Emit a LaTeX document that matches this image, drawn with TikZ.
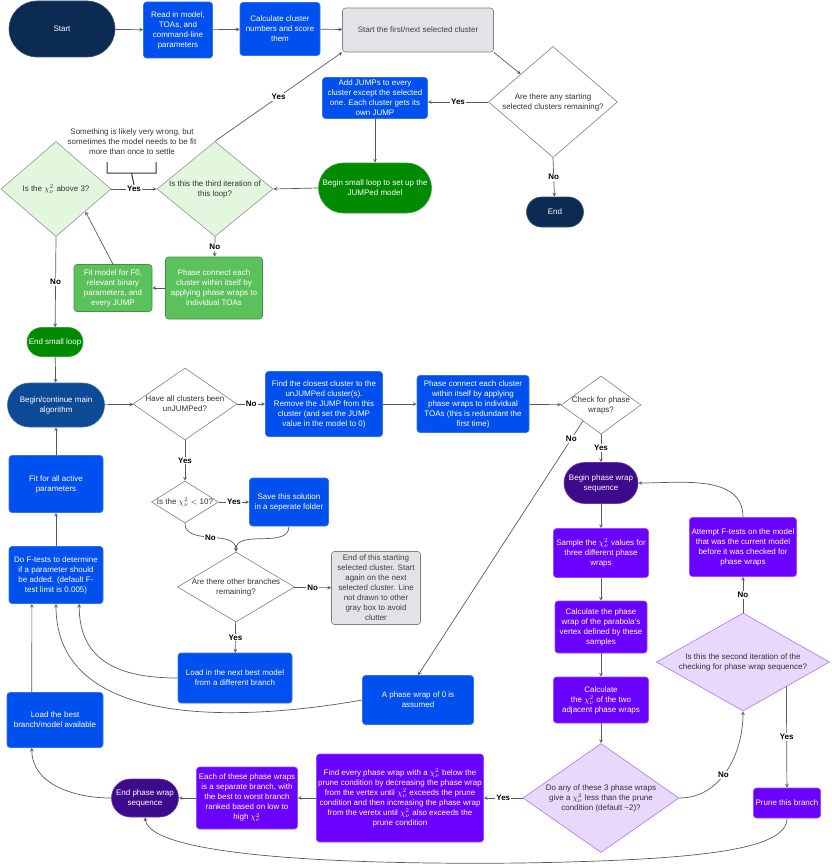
\documentclass[tikz,border=0pt]{standalone}
\usepackage{fontspec}
\setmainfont{Liberation Sans}
\usepackage{amsmath}
\usetikzlibrary{arrows,shapes.geometric,calc,positioning}
\tikzset{>=stealth}

\definecolor{navy}{HTML}{0C2B53}
\definecolor{mainblue}{HTML}{0D4A96}
\definecolor{boxblue}{HTML}{0050EF}
\definecolor{loopgreen}{HTML}{008A00}
\definecolor{boxgreen}{HTML}{5BC25B}
\definecolor{palegreen}{HTML}{E3F6DE}
\definecolor{boxgray}{HTML}{E1E3E7}
\definecolor{deeppurple}{HTML}{3D0A8C}
\definecolor{boxviolet}{HTML}{6A00FF}
\definecolor{palepurple}{HTML}{E7D8FC}
\definecolor{linegray}{HTML}{5A5A5A}

\tikzset{
  every node/.style={font=\fontsize{8}{10}\selectfont, align=center},
  bluebox/.style={rectangle, rounded corners=3pt, inner sep=1pt, text=white,
    fill=boxblue, draw=boxblue!80!white, line width=0.6pt},
  greenbox/.style={bluebox, fill=boxgreen, draw=boxgreen!75!black},
  vbox/.style={bluebox, fill=boxviolet, draw=boxviolet!70!white},
  graybox/.style={bluebox, fill=boxgray, draw=gray, text=black!75},
  pill/.style={rectangle, inner sep=1pt, text=white, fill=#1, draw=#1!80!white, line width=0.6pt},
  dia/.style={diamond, draw=gray, fill=white, inner sep=0pt, line width=0.6pt},
  gdia/.style={dia, fill=palegreen, draw=gray!85},
  pdia/.style={dia, fill=palepurple, draw=boxviolet!55},
  diatext/.style={text=black!80, align=center},
  link/.style={draw=linegray, line width=0.7pt},
  arr/.style={link, ->},
  lbl/.style={fill=white, inner sep=1pt, text=black, font=\fontsize{8}{10}\selectfont\bfseries},
  brk/.style={draw=black!80, line width=1pt}
}

\begin{document}
\begin{tikzpicture}[x=1pt, y=1pt]
\useasboundingbox (0,0) rectangle (831,-867);

% top row
\node[pill=navy, minimum width=106pt, minimum height=56pt, rounded corners=28pt] (start) at (62,-29) {Start};
\node[bluebox, minimum width=69pt, minimum height=56pt] (readin) at (178,-30) {Read in model,\\TOAs, and\\command-line\\parameters};
\node[bluebox, minimum width=80pt, minimum height=53pt] (calc) at (280,-29) {Calculate cluster\\numbers and score\\them};
\node[graybox, minimum width=151pt, minimum height=44pt] (nextcl) at (418,-30) {Start the first/next selected cluster};
\node[dia, minimum width=129pt, minimum height=111pt, label={[diatext]center:{Are there any starting\\selected clusters remaining?}}] (anyleft) at (553,-102) {};
\node[pill=navy, minimum width=57pt, minimum height=30pt, rounded corners=15pt] (finish) at (555,-212) {End};

% small loop
\node[bluebox, minimum width=105pt, minimum height=41pt] (addjump) at (375,-98) {Add JUMPs to every\\cluster except the selected\\one. Each cluster gets its\\own JUMP};
\node[pill=loopgreen, minimum width=113pt, minimum height=50pt, rounded corners=25pt] (smallloop) at (375,-188) {Begin small loop to set up the\\JUMPed model};
\node[gdia, minimum width=116pt, minimum height=95pt, label={[diatext]center:{Is this the third iteration of\\this loop?}}] (third) at (215,-189) {};
\node[gdia, minimum width=110pt, minimum height=95pt, label={[diatext]center:{Is the $\chi^2_\nu$ above 3?}}] (chiabove) at (56,-189) {};
\node[text=black!80] (note) at (132,-142) {Something is likely very wrong, but\\sometimes the model needs to be fit\\more than once to settle};
\node[greenbox, minimum width=97pt, minimum height=62pt] (phasecon) at (214,-288) {Phase connect each\\cluster within itself by\\applying phase wraps to\\individual TOAs};
\node[greenbox, minimum width=78pt, minimum height=47pt] (fitmodel) at (113,-288) {Fit model for F0,\\relevant binary\\parameters, and\\every JUMP};
\node[pill=loopgreen, minimum width=56pt, minimum height=29pt, rounded corners=14.5pt] (endsmall) at (55,-342) {End small loop};

% main algorithm
\node[pill=mainblue, minimum width=97pt, minimum height=44pt, rounded corners=22pt] (mainalg) at (56,-405) {Begin/continue main\\algorithm};
\node[dia, minimum width=104pt, minimum height=72pt, label={[diatext]center:{Have all clusters been\\unJUMPed?}}] (allunjump) at (185,-404) {};
\node[bluebox, minimum width=117pt, minimum height=65pt] (closest) at (324,-404) {Find the closest cluster to the\\unJUMPed cluster(s).\\Remove the JUMP from this\\cluster (and set the JUMP\\value in the model to 0)};
\node[bluebox, minimum width=112pt, minimum height=57pt] (phasecon2) at (473,-404) {Phase connect each cluster\\within itself by applying\\phase wraps to individual\\TOAs (this is redundant the\\first time)};
\node[dia, minimum width=80pt, minimum height=58pt, label={[diatext]center:{Check for phase\\wraps?}}] (checkwrap) at (601,-405) {};
\node[dia, minimum width=67pt, minimum height=42pt, label={[diatext]center:{Is the $\chi^2_\nu$ $<$ 10?}}] (chiten) at (185,-502) {};
\node[bluebox, minimum width=79pt, minimum height=48pt] (save) at (289,-502) {Save this solution\\in a seperate folder};
\node[dia, minimum width=117pt, minimum height=70pt, label={[diatext]center:{Are there other branches\\remaining?}}] (otherbr) at (236,-587) {};
\node[graybox, minimum width=89pt, minimum height=73pt] (endstart) at (376,-588) {End of this starting\\selected cluster. Start\\again on the next\\selected cluster. Line\\not drawn to other\\gray box to avoid\\clutter};
\node[bluebox, minimum width=114pt, minimum height=50pt] (loadnext) at (235,-678) {Load in the next best model\\from a different branch};
\node[bluebox, minimum width=111pt, minimum height=49pt] (wrapzero) at (418,-700) {A phase wrap of 0 is\\assumed};
\node[bluebox, minimum width=94pt, minimum height=57pt] (fitall) at (56,-484) {Fit for all active\\parameters};
\node[bluebox, minimum width=94pt, minimum height=57pt] (ftests) at (56,-575) {Do F-tests to determine\\if a parameter should\\be added. (default F-\\test limit is 0.005)};
\node[bluebox, minimum width=96pt, minimum height=55pt] (loadbest) at (55,-720) {Load the best\\branch/model available};

% phase wrap sequence
\node[pill=deeppurple, minimum width=74pt, minimum height=41pt, rounded corners=20.5pt] (beginwrap) at (601,-483) {Begin phase wrap\\sequence};
\node[vbox, minimum width=95pt, minimum height=49pt] (sample) at (601,-553) {Sample the $\chi^2_\nu$ values for\\three different phase\\wraps};
\node[vbox, minimum width=92pt, minimum height=52pt] (vertex) at (601,-627) {Calculate the phase\\wrap of the parabola's\\vertex defined by these\\samples};
\node[vbox, minimum width=95pt, minimum height=46pt] (adjchi) at (601,-700) {Calculate\\the $\chi^2_\nu$ of the two\\adjacent phase wraps};
\node[pdia, minimum width=156pt, minimum height=109pt, label={[diatext]center:{Do any of these 3 phase wraps\\give a $\chi^2_\nu$ less than the prune\\condition (default \textasciitilde2)?}}] (doany) at (601,-798) {};
\node[pdia, minimum width=173pt, minimum height=98pt, label={[diatext]center:{Is this the second iteration of the\\checking for phase wrap sequence?}}] (secondit) at (743,-662) {};
\node[vbox, minimum width=107pt, minimum height=59pt] (attempt) at (743,-547) {Attempt F-tests on the model\\that was the current model\\before it was checked for\\phase wraps};
\node[vbox, minimum width=67pt, minimum height=30pt] (prune) at (787,-803) {Prune this branch};
\node[vbox, minimum width=167pt, minimum height=88pt] (findevery) at (400,-798) {Find every phase wrap with a $\chi^2_\nu$ below the\\prune condition by decreasing the phase wrap\\from the vertex until $\chi^2_\nu$ exceeds the prune\\condition and then increasing the phase wrap\\from the veretx until $\chi^2_\nu$ also exceeds the\\prune condition};
\node[vbox, minimum width=101pt, minimum height=62pt] (eachbranch) at (247,-798) {Each of these phase wraps\\is a separate branch, with\\the best to worst branch\\ranked based on low to\\high $\chi^2_\nu$};
\node[pill=deeppurple, minimum width=67pt, minimum height=38pt, rounded corners=19pt] (endwrap) at (145,-798) {End phase wrap\\sequence};

% connectors
\draw[arr] (start) -- (readin);
\draw[arr] (readin) -- (calc);
\draw[arr] (calc) -- (nextcl);
\draw[arr] (nextcl.south east) -- ($(anyleft.west)!0.5!(anyleft.north)$);
\draw[arr] (anyleft.west) -- node[lbl]{Yes} (addjump.east |- anyleft.west);
\draw[arr] (anyleft.south) -- node[lbl]{No} (finish);
\draw[arr] (addjump) -- (smallloop);
\draw[arr] (smallloop.west) -- (third.east);
\draw[arr] (third.north) -- node[lbl]{Yes} (nextcl.south west);
\draw[arr] (chiabove.east) -- node[lbl] (yes1) {Yes} (third.west);
\draw[brk] (107,-162) -- (107,-173) -- (156,-173) -- (156,-162)
  (131.5,-173) -- (yes1.north);
\draw[arr] (third.south) -- node[lbl]{No} (phasecon);
\draw[arr] (phasecon) -- (fitmodel);
\draw[arr] (fitmodel.north) -- ($(chiabove.east)!0.47!(chiabove.south)$);
\draw[arr] (chiabove.south) -- node[lbl]{No} (endsmall);
\draw[arr] (endsmall) -- (mainalg);
\draw[arr] (mainalg) -- (allunjump);
\draw[arr] (allunjump) -- node[lbl]{No} (closest);
\draw[arr] (closest) -- (phasecon2);
\draw[arr] (phasecon2) -- (checkwrap);
\draw[arr] (checkwrap) -- node[lbl]{Yes} (beginwrap);
\draw[arr] ($(checkwrap.west)!0.55!(checkwrap.south)$) -- node[lbl, pos=0.07]{No} (wrapzero.north);
\draw[arr] (allunjump) -- node[lbl]{Yes} (chiten);
\draw[arr] (chiten) -- node[lbl]{Yes} (save);
\draw[arr] (chiten.south) to[out=-90, in=90] node[lbl]{No} (otherbr.north);
\draw[arr] (save.south) to[out=-90, in=90] (otherbr.north);
\draw[arr] (otherbr) -- node[lbl]{No} (endstart);
\draw[arr] (otherbr) -- node[lbl]{Yes} (loadnext);
\draw[arr] (loadnext.west) to[out=180, in=-90, looseness=1.2] ($(ftests.south west)!0.745!(ftests.south east)$);
\draw[arr] (wrapzero.west) to[out=190, in=-90] (ftests.south);
\draw[arr] ($(loadbest.north west)!0.26!(loadbest.north east)$) -- ($(ftests.south west)!0.245!(ftests.south east)$);
\draw[arr] (ftests) -- (fitall);
\draw[arr] (fitall) -- (mainalg);
\draw[arr] (beginwrap) -- (sample);
\draw[arr] (sample) -- (vertex);
\draw[arr] (vertex) -- (adjchi);
\draw[arr] (adjchi) -- (doany.north);
\draw[arr] (doany.west) -- node[lbl]{Yes} (findevery);
\draw[arr] (doany.east) to[out=0, in=-90] node[lbl, pos=0.45]{No} (secondit.south);
\draw[arr] (secondit.north) -- node[lbl]{No} (attempt);
\draw[arr] (attempt.north) to[out=90, in=0] (beginwrap.east);
\draw[arr] ($(secondit.south)!0.5!(secondit.east)$) -- node[lbl]{Yes} (prune);
\draw[arr] (prune.south) .. controls (787,-850) and (700,-860) .. (520,-863)
  .. controls (330,-865) and (150,-855) .. (endwrap.south);
\draw[arr] (findevery) -- (eachbranch);
\draw[arr] (eachbranch) -- (endwrap);
\draw[arr] (endwrap.west) to[out=180, in=-90] ($(loadbest.south west)!0.26!(loadbest.south east)$);
\end{tikzpicture}
\end{document}
